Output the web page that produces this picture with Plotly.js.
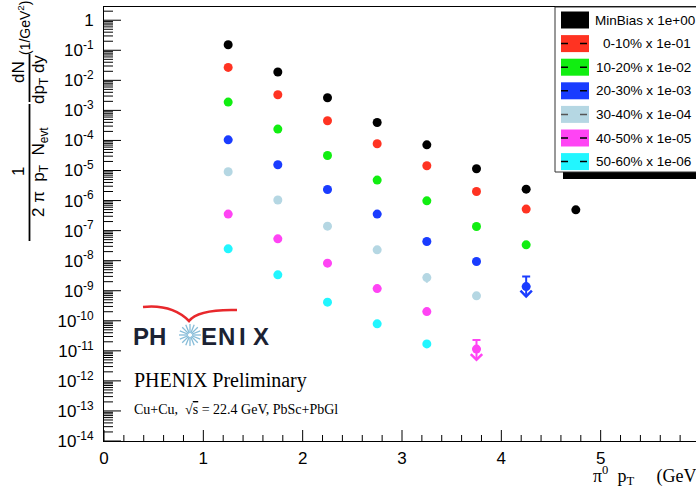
<!DOCTYPE html>
<html><head><meta charset="utf-8">
<script src="https://cdn.plot.ly/plotly-3.0.1.min.js"></script>
<style>html,body{margin:0;padding:0;overflow:hidden;background:#fff}</style>
</head><body><div id="plot" style="width:700px;height:491px"></div>
<script>
// ---- data (values as plotted, already scaled) ----
const ptBins = [1.25, 1.75, 2.25, 2.75, 3.25, 3.75, 4.25, 4.75];
const minBias  = [0.153, 0.0189, 2.63e-3, 3.96e-4, 7.16e-5, 1.14e-5, 2.40e-6, 4.92e-7];
const cent0010 = [0.0269, 3.31e-3, 4.52e-4, 7.74e-5, 1.44e-5, 2.00e-6, 5.19e-7];
const cent1020 = [1.89e-3, 2.39e-4, 3.15e-5, 4.79e-6, 9.8e-7, 1.37e-7, 3.37e-8];
const cent2030 = [1.05e-4, 1.55e-5, 2.33e-6, 3.54e-7, 4.33e-8, 9.35e-9, 1.37e-9];
const cent3040 = [9.06e-6, 1.04e-6, 1.41e-7, 2.29e-8, 2.74e-9, 6.75e-10];
const cent4050 = [3.54e-7, 5.32e-8, 8.26e-9, 1.18e-9, 2.02e-10, 1.14e-11];
const cent5060 = [2.48e-8, 3.37e-9, 4.16e-10, 7.89e-11, 1.70e-11];
const seriesNames = ['MinBias x 1e+00', '0-10% x 1e-01', '10-20% x 1e-02', '20-30% x 1e-03',
                     '30-40% x 1e-04', '40-50% x 1e-05', '50-60% x 1e-06'];
const seriesValues = [minBias, cent0010, cent1020, cent2030, cent3040, cent4050, cent5060];
const seriesColors = ['#000000', '#ff3322', '#11ee11', '#1a3cff', '#b5d7e3', '#ff44f4', '#22f6ff'];
// error bars (null = none)
const errUp = [[], [], [], [null, null, null, null, null, null, 1.63e-9], [null, null, null, null, 0, 0], [null, null, null, null, null, 1.15e-11], []];
const errDown = [[], [], [], [null, null, null, null, null, null, 0], [null, null, null, null, 0.9e-9, 1.8e-10], [null, null, null, null, null, 0], []];
// upper-limit arrows: series index, point index, arrow tip value
const limitSeries = [3, 5];
const limitPoint = [6, 5];
const limitTip = [5.65e-10, 4.4e-12];
const yTickExp = [0, -1, -2, -3, -4, -5, -6, -7, -8, -9, -10, -11, -12, -13, -14];
const xTickLabels = ['0', '1', '2', '3', '4', '5', '6'];

// ---- geometry ----
const L = 104, R = 700, T = 7, B = 441;
const X_RANGE = [0, 6], Y_RANGE = [-14, 0.44];
const pxPerX = (R - L) / (X_RANGE[1] - X_RANGE[0]);
const pxPerDec = (B - T) / (Y_RANGE[1] - Y_RANGE[0]);
const px = p => (p - L) / (R - L);
const py = p => (B - p) / (B - T);

const tickvals = yTickExp.map(e => Math.pow(10, e));
const ticktext = yTickExp.map(e => e === 0 ? '1' : '10<sup>' + e + '</sup>');
const minorVals = [];
for (let e = -14; e <= 0; e++) for (let k = 2; k <= 9; k++) minorVals.push(k * Math.pow(10, e));
const xMajorVals = xTickLabels.map(Number);
const xMinorVals = [];
for (let k = 1; k < 30; k++) if (k % 5 !== 0) xMinorVals.push(k / 5);

// ROOT-style inside ticks built from the tick arrays as line traces
const tx = [], ty = [];
const yBot = Math.pow(10, Y_RANGE[0]);
const addX = (v, len) => { tx.push(v, v, null); ty.push(yBot, yBot * Math.pow(10, len / pxPerDec), null); };
const addY = (v, len) => { tx.push(X_RANGE[0], X_RANGE[0] + len / pxPerX, null); ty.push(v, v, null); };
xMajorVals.forEach(v => addX(v, 11));
xMinorVals.forEach(v => addX(v, 6));
tickvals.forEach(v => addY(v, 17));
minorVals.filter(v => Math.log10(v) <= Y_RANGE[1]).forEach(v => addY(v, 9));

const traces = [{type: 'scatter', mode: 'lines', x: tx, y: ty, line: {color: '#000', width: 1},
  connectgaps: false, hoverinfo: 'none', showlegend: false}];
seriesValues.forEach((vals, i) => {
  const hasErr = errUp[i].length > 0;
  const t = {
    type: 'scatter', mode: 'markers',
    x: ptBins.slice(0, vals.length), y: vals,
    marker: {color: seriesColors[i], size: 9, line: {width: 0}},
    cliponaxis: false, hoverinfo: 'none'
  };
  if (hasErr) {
    t.error_y = {type: 'data', symmetric: false,
      array: ptBins.slice(0, vals.length).map((_, k) => errUp[i][k] === undefined ? null : errUp[i][k]),
      arrayminus: ptBins.slice(0, vals.length).map((_, k) => errDown[i][k] === undefined ? null : errDown[i][k]),
      color: seriesColors[i], thickness: 2, width: i === 4 ? 0 : 4};
  }
  traces.push(t);
});

const shapes = [];
const annotations = [];

// upper-limit arrows
limitSeries.forEach((s, j) => {
  annotations.push({x: ptBins[limitPoint[j]], y: Math.log10(limitTip[j]), xref: 'x', yref: 'y',
    text: '', showarrow: true, ax: 0, ay: -12, axref: 'pixel', ayref: 'pixel',
    arrowhead: 4, arrowsize: 1.1, arrowwidth: 2, arrowcolor: seriesColors[s]});
});

// legend box
shapes.push({type: 'rect', xref: 'paper', yref: 'paper', x0: px(563), x1: px(702), y0: py(179), y1: py(172),
  fillcolor: '#000', line: {width: 0}});
shapes.push({type: 'rect', xref: 'paper', yref: 'paper', x0: px(555), x1: px(702), y0: py(172), y1: py(7),
  fillcolor: '#fff', line: {color: '#333', width: 1}});
const rowY = [20, 43.6, 67.2, 90.8, 114.4, 138, 161.6];
const textX = [593, 601, 594, 594, 594, 594, 594];
seriesNames.forEach((n, i) => {
  shapes.push({type: 'rect', xref: 'paper', yref: 'paper', x0: px(561), x1: px(589), y0: py(rowY[i] + 8.5), y1: py(rowY[i] - 8.5),
    fillcolor: seriesColors[i], line: {width: 0}});
  if (i > 0) {
    shapes.push({type: 'line', xref: 'paper', yref: 'paper', x0: px(561), x1: px(589), y0: py(rowY[i]), y1: py(rowY[i]),
      line: {color: i === 4 ? '#555' : '#000', width: 1.5, dash: '7px,12px'}});
  }
  annotations.push({xref: 'paper', yref: 'paper', x: px(textX[i]), y: py(rowY[i]), xanchor: 'left', yanchor: 'middle',
    text: n, showarrow: false, font: {family: 'Liberation Sans, Arial, sans-serif', size: 13.5, color: '#000'}});
});

// y-axis title as a fraction
const yt = {family: 'Liberation Sans, Arial, sans-serif', size: 17, color: '#000'};
const rot = (x, y, text, size) => annotations.push({xref: 'paper', yref: 'paper', x: px(x), y: py(y), xanchor: 'center', yanchor: 'middle',
  text: text, textangle: -90, showarrow: false, font: Object.assign({}, yt, size ? {size: size} : {})});
rot(19, 172, '1');
rot(40, 172, '2\u00A0\u03C0\u00A0\u00A0p<sub>T</sub>\u00A0\u00A0N<sub>evt</sub>');
rot(19, 72, 'dN');
rot(40, 80, 'dp<sub>T</sub>\u00A0dy');
rot(24, 28, '(1/GeV<sup>2</sup>)', 14);
shapes.push({type: 'line', xref: 'paper', yref: 'paper', x0: px(29.5), x1: px(29.5), y0: py(241), y1: py(104), line: {color: '#000', width: 1.8}});
shapes.push({type: 'line', xref: 'paper', yref: 'paper', x0: px(29.5), x1: px(29.5), y0: py(102), y1: py(54), line: {color: '#000', width: 1.8}});

// x-axis title
annotations.push({xref: 'paper', yref: 'paper', x: px(591), y: py(476), xanchor: 'left', yanchor: 'middle',
  text: '\u03C0<sup>0</sup>\u00A0\u00A0p<sub>T</sub>\u00A0\u00A0\u00A0\u00A0\u00A0(GeV/c)', showarrow: false,
  font: {family: 'Liberation Serif, Times New Roman, serif', size: 18, color: '#000'}});

// PHENIX logo
shapes.push({type: 'path', xref: 'paper', yref: 'paper',
  path: `M${px(143)},${py(307)} Q${px(172)},${py(304)} ${px(189)},${py(321)} Q${px(198)},${py(309)} ${px(237)},${py(310)}`,
  line: {color: '#e8282c', width: 2.5}});
for (let k = 0; k < 16; k++) {
  const a = k * Math.PI / 8;
  shapes.push({type: 'line', xref: 'paper', yref: 'paper',
    x0: px(190 + 2 * Math.cos(a)), y0: py(335 + 2 * Math.sin(a)),
    x1: px(190 + 11 * Math.cos(a)), y1: py(335 + 11 * Math.sin(a)),
    line: {color: '#86bcd8', width: 1.3}});
}
const logoFont = {family: 'Liberation Sans, Arial, sans-serif', size: 24, color: '#1b2233'};
[['P', 140.5], ['H', 157.5], ['E', 208.5], ['N', 226.5], ['I', 242.5], ['X', 261]].forEach(([c, x]) =>
  annotations.push({xref: 'paper', yref: 'paper', x: px(x), y: py(336), xanchor: 'center', yanchor: 'middle',
    text: '<b>' + c + '</b>', showarrow: false, font: logoFont}));
annotations.push({xref: 'paper', yref: 'paper', x: px(132), y: py(381), xanchor: 'left', yanchor: 'middle',
  text: 'PHENIX Preliminary', showarrow: false, font: {family: 'Liberation Serif, Times New Roman, serif', size: 20, color: '#000'}});
annotations.push({xref: 'paper', yref: 'paper', x: px(132), y: py(409), xanchor: 'left', yanchor: 'middle',
  text: 'Cu+Cu,\u00A0\u00A0<b>\u221A</b><span style="text-decoration:overline">s</span> = 22.4 GeV, PbSc+PbGl', showarrow: false,
  font: {family: 'Liberation Serif, Times New Roman, serif', size: 14, color: '#000'}});

const layout = {
  width: 700, height: 491,
  margin: {l: L, r: 0, t: T, b: 491 - B},
  paper_bgcolor: '#fff', plot_bgcolor: 'rgba(0,0,0,0)', showlegend: false,
  font: {family: 'Liberation Sans, Arial, sans-serif', color: '#000'},
  xaxis: {range: X_RANGE, showline: true, linecolor: '#000', linewidth: 1, mirror: true,
    ticks: '', tickmode: 'array', tickvals: xMajorVals, ticktext: xTickLabels,
    showgrid: false, zeroline: false, tickfont: {size: 17}, ticklabelstandoff: 2},
  yaxis: {type: 'log', range: Y_RANGE, showline: true, linecolor: '#000', linewidth: 1, mirror: true,
    ticks: '', tickmode: 'array', tickvals: tickvals, ticktext: ticktext,
    showgrid: false, zeroline: false, tickfont: {size: 17}, ticklabelstandoff: 6},
  shapes: shapes, annotations: annotations
};
Plotly.newPlot('plot', traces, layout, {displayModeBar: false, staticPlot: true});
</script></body></html>
